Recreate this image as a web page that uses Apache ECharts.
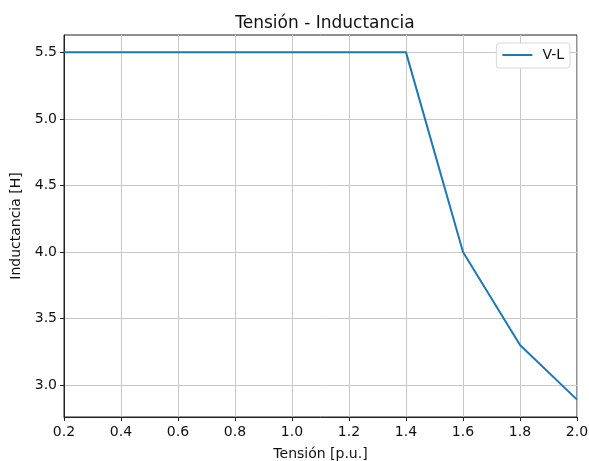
<!DOCTYPE html>
<html>
<head>
<meta charset="utf-8">
<script src="https://cdn.jsdelivr.net/npm/echarts@6/dist/echarts.min.js"></script>
<style>
  html, body { margin: 0; padding: 0; background: #fff; }
  #chart { width: 589px; height: 461px; }
</style>
</head>
<body>
<div id="chart"></div>
<script>
const tension = [0.2, 0.4, 0.6, 0.8, 1.0, 1.2, 1.4, 1.6, 1.8, 2.0];
const inductancia = [5.5, 5.5, 5.5, 5.5, 5.5, 5.5, 5.5, 4.0, 3.3, 2.89];
const yTicks = [3.0, 3.5, 4.0, 4.5, 5.0, 5.5];

const chart = echarts.init(document.getElementById("chart"));
const font = "DejaVu Sans";

chart.setOption({
  backgroundColor: "#fff",
  animation: false,
  textStyle: { fontFamily: font },
  title: {
    text: "Tensión - Inductancia",
    left: 320,
    textAlign: "center",
    top: 10,
    textStyle: { fontFamily: font, fontSize: 17, fontWeight: "normal", color: "#111" }
  },
  legend: {
    right: 19,
    top: 43,
    itemWidth: 30,
    itemHeight: 2,
    itemGap: 8,
    padding: [5, 6, 6, 6],
    borderColor: "#d8d8d8",
    borderWidth: 1,
    borderRadius: 3,
    backgroundColor: "#fff",
    icon: "rect",
    textStyle: { fontFamily: font, fontSize: 14, color: "#111", padding: [0, 0, 0, 5] },
    data: ["V-L"]
  },
  grid: {
    left: 64,
    right: 12,
    top: 35,
    bottom: 44,
    containLabel: false,
    outerBoundsMode: "none",
    show: true,
    borderColor: "#222",
    borderWidth: 1,
    backgroundColor: "transparent"
  },
  xAxis: {
    type: "value",
    min: 0.2,
    max: 2.0,
    interval: 0.2,
    name: "Tensión [p.u.]",
    nameLocation: "middle",
    nameGap: 30,
    nameTextStyle: { fontFamily: font, fontSize: 14, color: "#111" },
    axisLine: { show: true, lineStyle: { color: "#222", width: 1 } },
    axisTick: { show: true, length: 4, inside: false, lineStyle: { color: "#222" } },
    axisLabel: {
      fontFamily: font, fontSize: 14, color: "#111", margin: 8,
      formatter: v => v.toFixed(1)
    },
    splitLine: { show: true, lineStyle: { color: "#c8c8c8", width: 1 } }
  },
  yAxis: {
    type: "value",
    min: 2.7595,
    max: 5.6305,
    name: "Inductancia [H]",
    nameLocation: "middle",
    nameGap: 40,
    nameRotate: 90,
    nameTextStyle: { fontFamily: font, fontSize: 14, color: "#111" },
    axisLine: { show: true, lineStyle: { color: "#222", width: 1 } },
    axisTick: { show: true, length: 4, customValues: yTicks, lineStyle: { color: "#222" } },
    axisLabel: {
      fontFamily: font, fontSize: 14, color: "#111", margin: 7,
      customValues: yTicks,
      formatter: v => v.toFixed(1)
    },
    splitLine: { show: true, lineStyle: { color: "#c8c8c8", width: 1 } }
  },
  series: [{
    name: "V-L",
    type: "line",
    data: tension.map((x, i) => [x, inductancia[i]]),
    showSymbol: false,
    symbol: "none",
    lineStyle: { color: "#1f77b4", width: 2 },
    itemStyle: { color: "#1f77b4" }
  }]
});
</script>
</body>
</html>
